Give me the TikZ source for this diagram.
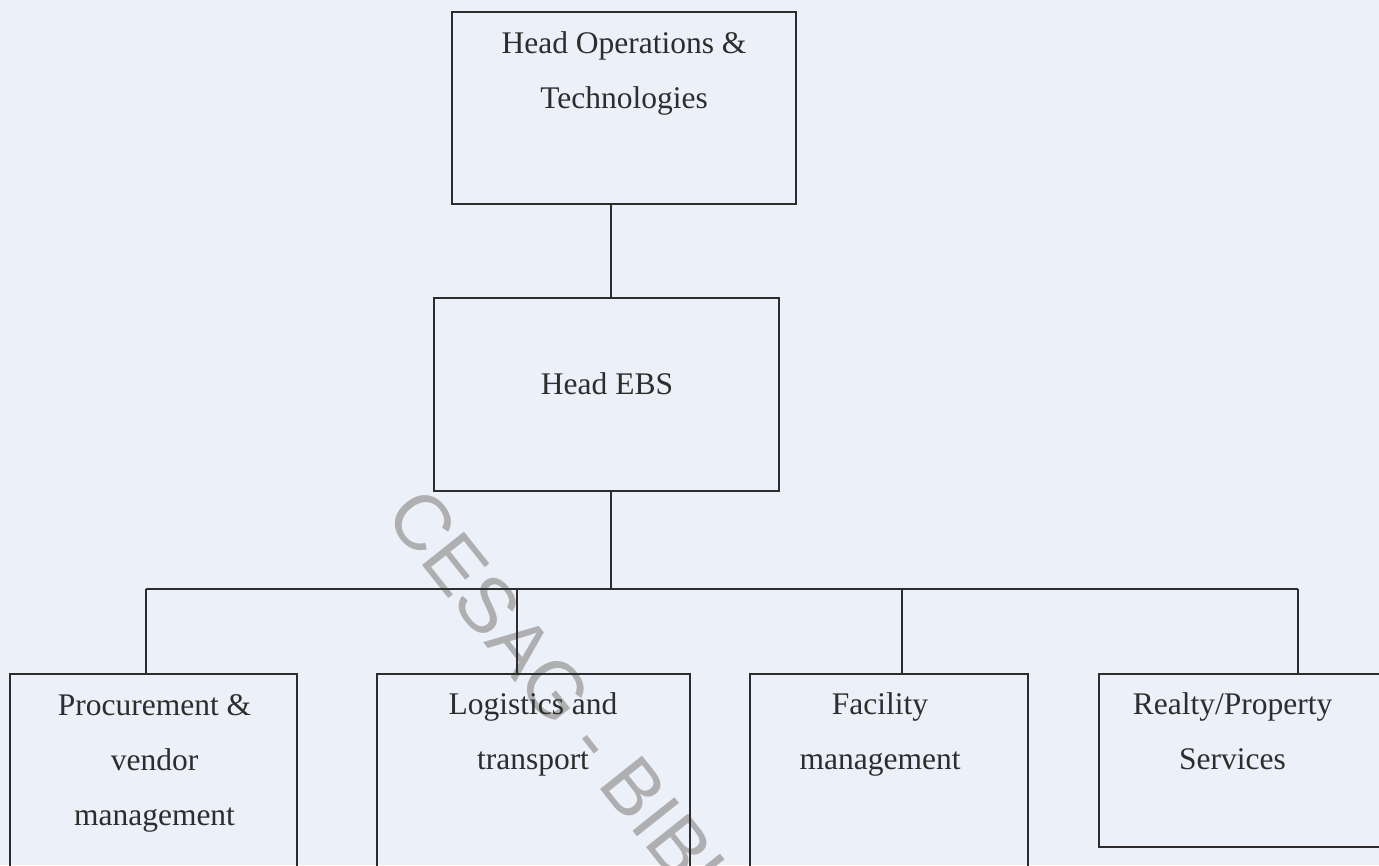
\documentclass[tikz,border=0pt]{standalone}
\usepackage{fontspec}
\setmainfont{Liberation Serif}
\newfontfamily\wmfont{Liberation Sans}
\definecolor{paper}{RGB}{236,240,248}
\definecolor{ink}{RGB}{45,45,45}
\definecolor{wm}{RGB}{175,175,178}
\begin{document}
\begin{tikzpicture}[x=1pt,y=-1pt,
  box/.style={draw=ink,line width=1.6pt,rectangle,inner sep=0pt},
  lbl/.style={text=ink,font=\fontsize{31.5}{55}\selectfont,align=center,inner sep=0pt,anchor=base},
  conn/.style={draw=ink,line width=1.5pt}]
\useasboundingbox (0,0) rectangle (1379,865);
\begin{scope}
\clip (0,0) rectangle (1379,865);
\fill[paper] (0,0) rectangle (1379,865);
% watermark
\node[text=wm,font=\wmfont\fontsize{78}{78}\selectfont,rotate=-51.5,anchor=mid west,inner sep=0pt] (wmark) at (385,515) {CESAG - BIBLIOTHEQUE};
% boxes
\node[box,minimum width=344,minimum height=192] (hot) at (624,108) {};
\node[box,minimum width=345,minimum height=193] (ebs) at (606.5,394.5) {};
\node[box,minimum width=287,minimum height=216] (proc) at (153.5,782) {};
\node[box,minimum width=313,minimum height=216] (log) at (533.5,782) {};
\node[box,minimum width=278,minimum height=216] (fac) at (889,782) {};
\node[box,minimum width=301,minimum height=173] (real) at (1249.5,760.5) {};
% labels (base anchor = baseline of the last line)
\node[lbl] (thot) at (624,108) {Head Operations \&\\Technologies};
\node[lbl] (tebs) at (607,394) {Head EBS};
\node[lbl] (tproc) at (154.5,825) {Procurement \&\\vendor\\management};
\node[lbl] (tlog) at (533,769) {Logistics and\\transport};
\node[lbl] (tfac) at (880,769) {Facility\\management};
\node[lbl] (treal) at (1232.5,769) {Realty/Property\\Services};
% connectors
\coordinate (trunk) at (611,589);
\coordinate (d1) at (146,589);
\coordinate (d2) at (517,589);
\coordinate (d3) at (902,589);
\coordinate (d4) at (1298,589);
\draw[conn] (hot.south -| trunk) -- (ebs.north -| trunk);
\draw[conn] (ebs.south -| trunk) -- (trunk);
\draw[conn] (d1) -- (d4);
\draw[conn] (d1) -- (proc.north -| d1);
\draw[conn] (d2) -- (log.north -| d2);
\draw[conn] (d3) -- (fac.north -| d3);
\draw[conn] (d4) -- (real.north -| d4);
\end{scope}
\end{tikzpicture}
\end{document}
